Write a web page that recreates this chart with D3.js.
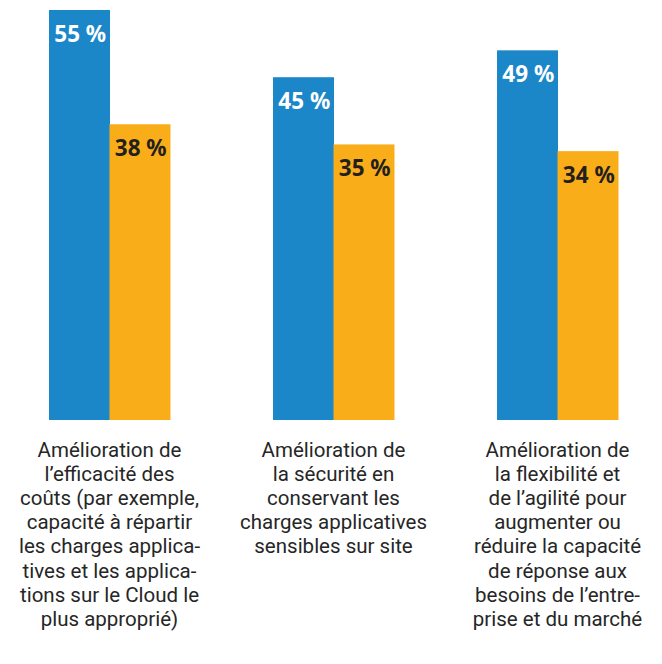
<!doctype html>
<html>
<head>
  <meta charset="utf-8">
  <style type="text/css">
    html, body { margin: 0; padding: 0; background: #fff; }
    svg { display: block; }
    .value { font-family: "Noto Sans", sans-serif; font-weight: bold; font-size: 22.5px; }
    .cat { font-family: Roboto, sans-serif; font-size: 20.5px; fill: #262626; }
  </style>
  <title>Améliorations</title>
</head>
<body>
<svg class="chart"></svg>

<script type="text/javascript" src="https://cdnjs.cloudflare.com/ajax/libs/d3/7.8.5/d3.min.js"></script>
<script type="text/javascript">

// data
var categories = ["cout", "securite", "flexibilite"];
var seriesNames = ["bleu", "orange"];
var blueValues = [55, 45, 49];
var orangeValues = [38, 35, 34];
var categoryLines = [
  ["Amélioration de", "l’efficacité des", "coûts (par exemple,", "capacité à répartir",
   "les charges applica-", "tives et les applica-", "tions sur le Cloud le", "plus approprié)"],
  ["Amélioration de", "la sécurité en", "conservant les", "charges applicatives",
   "sensibles sur site"],
  ["Amélioration de", "la flexibilité et", "de l’agilité pour", "augmenter ou",
   "réduire la capacité", "de réponse aux", "besoins de l’entre-", "prise et du marché"]
];

var width = 662,
    height = 664,
    baseline = 420;

var colors = { bleu: "#1b86c8", orange: "#f9ad19" };
var labelColors = { bleu: "#ffffff", orange: "#231f20" };

var svg = d3.select(".chart")
  .attr("width", width)
  .attr("height", height);

var x0 = d3.scaleBand()
  .domain(categories)
  .range([49, 618])
  .paddingInner(0.46)
  .paddingOuter(0);

var x1 = d3.scaleBand()
  .domain(seriesNames)
  .range([0, x0.bandwidth()])
  .padding(0);

var y = d3.scaleLinear()
  .domain([-6, 55])
  .range([baseline, 10]);

var rows = categories.map(function(c, i) {
  return {
    cat: c,
    lines: categoryLines[i],
    values: [
      { key: "bleu", value: blueValues[i] },
      { key: "orange", value: orangeValues[i] }
    ]
  };
});

var groups = svg.selectAll("g.group")
  .data(rows)
  .enter().append("g")
  .attr("class", "group")
  .attr("transform", function(d) { return "translate(" + x0(d.cat) + ",0)"; });

groups.selectAll("rect")
  .data(function(d) { return d.values; })
  .enter().append("rect")
  .attr("x", function(d) { return x1(d.key); })
  .attr("width", x1.bandwidth() + 0.5)
  .attr("y", function(d) { return y(d.value); })
  .attr("height", function(d) { return baseline - y(d.value); })
  .attr("fill", function(d) { return colors[d.key]; });

groups.selectAll("text.value")
  .data(function(d) { return d.values; })
  .enter().append("text")
  .attr("class", "value")
  .attr("x", function(d) { return x1(d.key) + x1.bandwidth() / 2 + 1; })
  .attr("y", function(d) { return y(d.value) + 32; })
  .attr("text-anchor", "middle")
  .attr("fill", function(d) { return labelColors[d.key]; })
  .text(function(d) { return d.value + " %"; });

// category labels below the bars
groups.append("text")
  .attr("class", "cat")
  .attr("text-anchor", "middle")
  .attr("transform", "translate(" + (x0.bandwidth() / 2) + ",456.5)")
  .selectAll("tspan")
  .data(function(d) { return d.lines; })
  .enter().append("tspan")
  .attr("x", 0)
  .attr("y", function(d, i) { return i * 24.2; })
  .text(function(d) { return d; });

</script>
</body>
</html>
